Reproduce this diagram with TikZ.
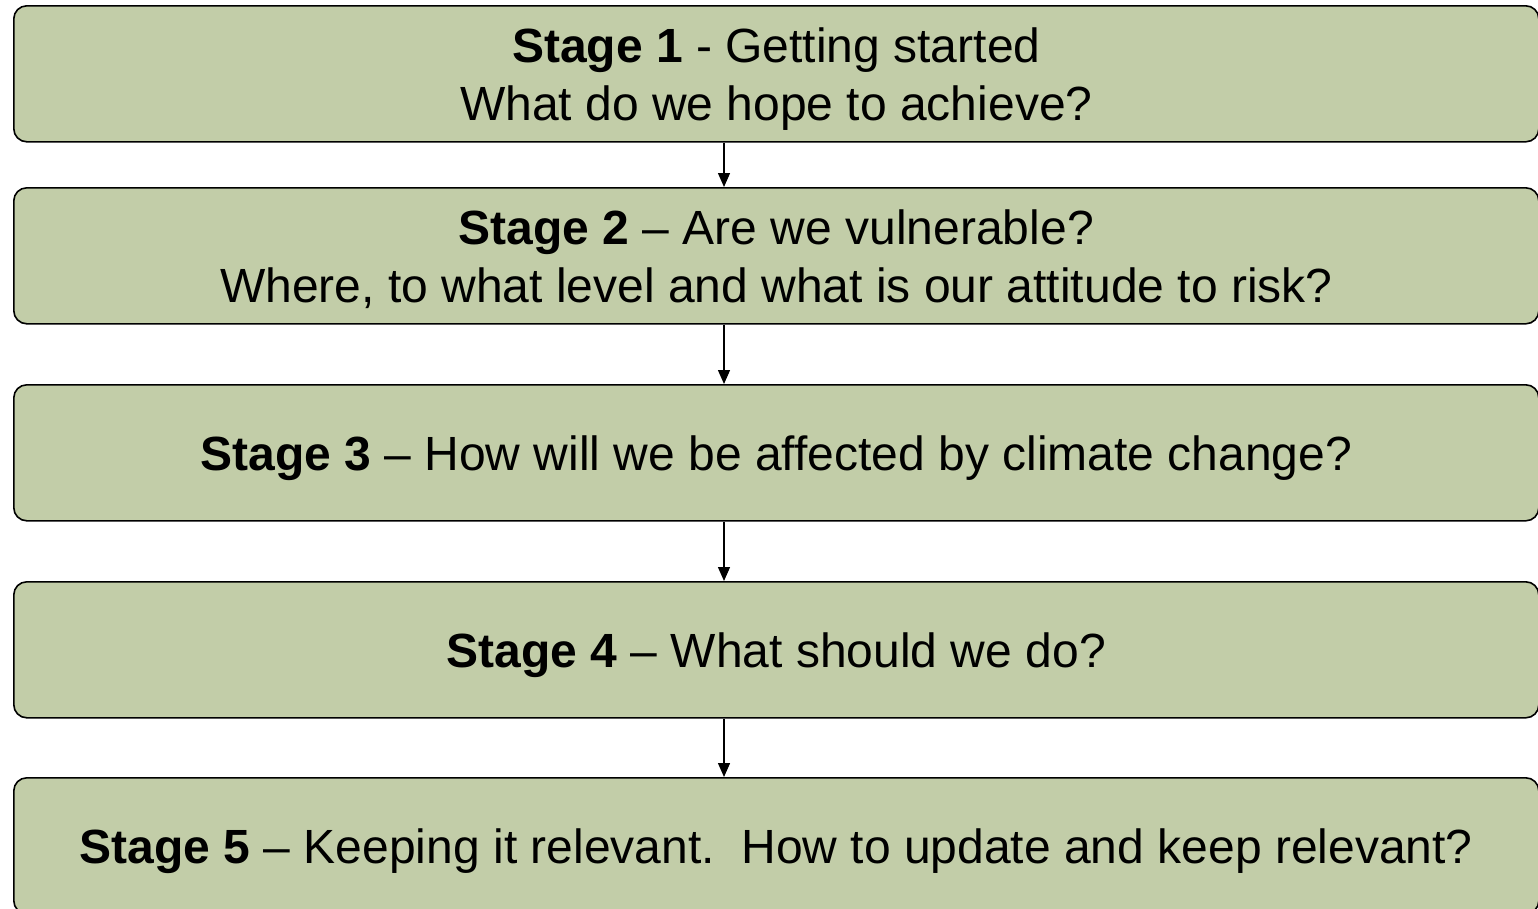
\documentclass[tikz,border=0pt]{standalone}
\usepackage{fontspec}
\setmainfont{Liberation Sans}
\usetikzlibrary{arrows.meta}
\definecolor{boxfill}{RGB}{194,205,168}
\newcommand{\stagetext}[1]{\raisebox{-6pt}[\height][\depth]{\begin{tabular}{@{}c@{}}#1\end{tabular}}}
\begin{document}
\begin{tikzpicture}[x=1pt,y=-1pt,
  stagebox/.style={draw=black,line width=1.6pt,fill=boxfill,rounded corners=13pt,
    minimum width=1525pt,minimum height=136pt,inner sep=0pt,
    font=\fontsize{48}{58}\selectfont,anchor=north west},
  link/.style={line width=1.3pt,-{Triangle[width=12pt,length=14pt]}}]
\useasboundingbox (0,0) rectangle (1538,908);
\node[stagebox] (s1) at (13,5) {\stagetext{\textbf{Stage 1} - Getting started\\What do we hope to achieve?}};
\node[stagebox] (s2) at (13,187) {\stagetext{\textbf{Stage 2} – Are we vulnerable?\\Where, to what level and what is our attitude to risk?}};
\node[stagebox] (s3) at (13,384) {\stagetext{\textbf{Stage 3} – How will we be affected by climate change?}};
\node[stagebox] (s4) at (13,581) {\stagetext{\textbf{Stage 4} – What should we do?}};
\node[stagebox] (s5) at (13,777) {\stagetext{\textbf{Stage 5} – Keeping it relevant.\ \ How to update and keep relevant?}};
\foreach \a/\b in {s1/s2,s2/s3,s3/s4,s4/s5}{
  \draw[link] (\a.south west -| 724,0) -- (\b.north west -| 724,0);
}
\end{tikzpicture}
\end{document}
